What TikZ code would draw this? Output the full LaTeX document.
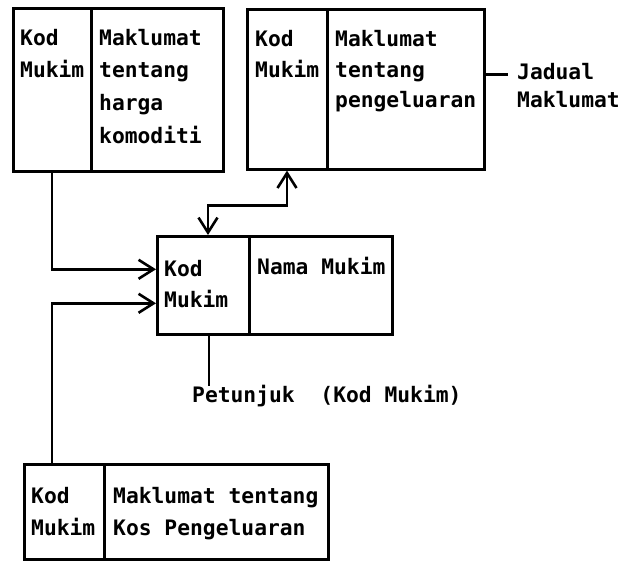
\documentclass[tikz,border=0pt]{standalone}
\usepackage{fontspec}
\newfontfamily\dm{DejaVu Sans Mono}
\usetikzlibrary{arrows.meta}
\tikzset{
  cell/.style={draw, line width=2.6pt, anchor=north west, inner sep=0pt, minimum height=#1},
  txt/.style={anchor=base west, inner sep=0pt, font=\dm\bfseries\fontsize{21.3}{26}\selectfont},
  conn/.style={line width=2.6pt},
  arr/.style={conn, -{Straight Barb[length=15pt,width=19pt,line width=2.6pt]}},
  arrboth/.style={conn, {Straight Barb[length=15pt,width=19pt,line width=2.6pt]}-{Straight Barb[length=15pt,width=19pt,line width=2.6pt]}}
}
\begin{document}
\begin{tikzpicture}[x=1pt,y=-1pt]
\useasboundingbox (0,0) rectangle (621,561);
% box 1
\node[cell=163pt, minimum width=78pt] (b1k) at (12,7) {};
\node[cell=163pt, minimum width=132pt] (b1d) at (90,7) {};
\node[txt] (t1a) at (20,46) {Kod};
\node[txt] (t1b) at (20,78) {Mukim};
\node[txt] (t1c) at (99,46) {Maklumat};
\node[txt] (t1d) at (99,78) {tentang};
\node[txt] (t1e) at (99,111) {harga};
\node[txt] (t1f) at (99,144) {komoditi};
% box 2
\node[cell=160pt, minimum width=80pt] (b2k) at (246,8) {};
\node[cell=160pt, minimum width=157pt] (b2d) at (326,8) {};
\node[txt] (t2a) at (255,47) {Kod};
\node[txt] (t2b) at (255,78) {Mukim};
\node[txt] (t2c) at (335,47) {Maklumat};
\node[txt] (t2d) at (335,78) {tentang};
\node[txt] (t2e) at (335,108) {pengeluaran};
\node[txt] (jad1) at (517,80) {Jadual};
\node[txt] (jad2) at (517,108) {Maklumat};
% box 3
\node[cell=98pt, minimum width=92pt] (b3k) at (156,235) {};
\node[cell=98pt, minimum width=143pt] (b3d) at (248,235) {};
\node[txt] (t3a) at (164,277) {Kod};
\node[txt] (t3b) at (164,308) {Mukim};
\node[txt] (t3c) at (257,275) {Nama Mukim};
\node[txt] (pet) at (192,402) {Petunjuk\ \ (Kod Mukim)};
% box 4
\node[cell=95pt, minimum width=80pt] (b4k) at (23,463) {};
\node[cell=95pt, minimum width=224pt] (b4d) at (103,463) {};
\node[txt] (t4a) at (31,503) {Kod};
\node[txt] (t4b) at (31,535) {Mukim};
\node[txt] (t4c) at (113,503) {Maklumat tentang};
\node[txt] (t4d) at (113,535) {Kos Pengeluaran};
% connectors
\draw[arr] ([xshift=40pt]b1k.south west) |- ([yshift=16pt]b3k.west);
\draw[arr] ([xshift=29pt]b4k.north west) |- ([yshift=-18pt]b3k.west);
\draw[arrboth] ([xshift=41pt]b2k.south west) -- ++(0,35) -| ([xshift=52pt]b3k.north west);
\draw[conn] ([xshift=53pt]b3k.south west) -- ([xshift=17pt,yshift=-2pt]pet.north west);
\draw[conn] ([yshift=15pt]b2d.east) -- ++(22,0);
\end{tikzpicture}
\end{document}
